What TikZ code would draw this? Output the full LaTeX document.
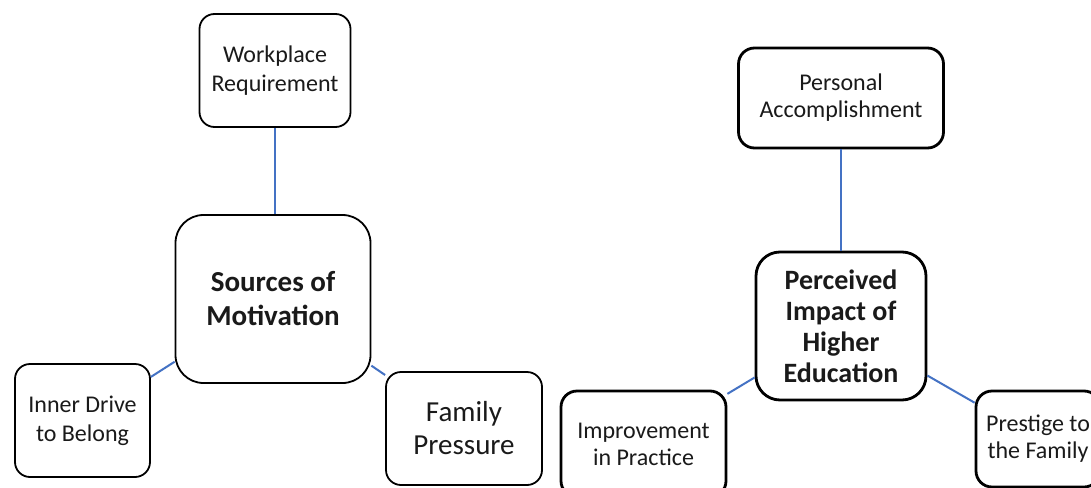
\documentclass[tikz,border=0pt]{standalone}
\usepackage{fontspec}
\setmainfont{Carlito}
\definecolor{linkblue}{HTML}{4472C4}
\definecolor{txt}{HTML}{1A1A1A}
\begin{document}
\begin{tikzpicture}[x=1pt,y=-1pt,
  box/.style={draw, rectangle, rounded corners=15pt, line width=1.8pt, align=center,
    inner sep=0pt, text=txt, font=\fontsize{24}{29}\selectfont},
  rbox/.style={box, line width=2.8pt, rounded corners=16pt},
  link/.style={draw=linkblue, line width=2pt}]
\clip (0,0) rectangle (1091,487);
\fill[white] (0,0) rectangle (1091,487);
% left cluster
\node[box, minimum width=151pt, minimum height=113pt] (wr) at (275,70.5) {Workplace\\Requirement};
\node[box, minimum width=195pt, minimum height=168pt, rounded corners=28pt,
  font=\fontsize{29}{34}\selectfont\bfseries] (sm) at (273,299) {Sources of\\Motivation};
\node[box, minimum width=135pt, minimum height=113pt] (id) at (82.5,420.5) {Inner Drive\\to Belong};
\node[box, minimum width=156pt, minimum height=113pt, font=\fontsize{29}{33}\selectfont] (fp) at (464,428.5) {Family\\Pressure};
% right cluster
\node[rbox, minimum width=205pt, minimum height=100pt, font=\fontsize{24}{27}\selectfont] (pa) at (841,98) {Personal\\Accomplishment};
\node[rbox, minimum width=170pt, minimum height=148pt, rounded corners=24pt,
  font=\fontsize{28}{31}\selectfont\bfseries] (pi) at (841,326) {Perceived\\Impact of\\Higher\\Education};
\node[rbox, minimum width=165pt, minimum height=106pt, font=\fontsize{24}{27}\selectfont] (ip) at (643.5,444) {Improvement\\in Practice};
\node[rbox, minimum width=124pt, minimum height=96pt, font=\fontsize{24}{27}\selectfont] (pf) at (1038,439) {Prestige to\\the Family};
% connectors
\draw[link] (wr.south) -- (wr.south |- sm.north);
\draw[link] (id) -- (sm);
\draw[link] (sm) -- (fp);
\draw[link] (pa.south) -- (pa.south |- pi.north);
\draw[link] (ip) -- (pi);
\draw[link] (pi) -- (pf);
\end{tikzpicture}
\end{document}
